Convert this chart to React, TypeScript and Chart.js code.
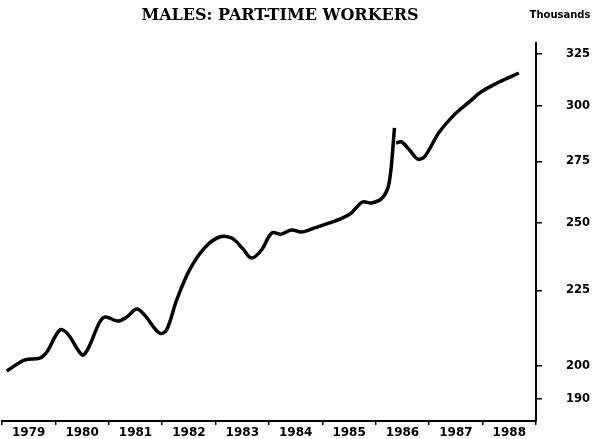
import React, { useEffect, useRef } from 'react';
import { Chart, registerables } from 'chart.js';

Chart.register(...registerables);

const TITLE = 'MALES: PART-TIME WORKERS';
const UNIT = 'Thousands';

const yearLabels = ['1979', '1980', '1981', '1982', '1983', '1984', '1985', '1986', '1987', '1988'];
const yTickValues = [190, 200, 225, 250, 275, 300, 325];

// Series before the 1986 break (time in years, value in thousands)
const beforeBreakT = [
  1979.09, 1979.43, 1979.71, 1979.84, 1980.08, 1980.22, 1980.5, 1980.61, 1980.83, 1980.94,
  1981.17, 1981.34, 1981.52, 1981.67, 1981.95, 1982.08, 1982.27, 1982.51, 1982.79, 1983.07,
  1983.3, 1983.5, 1983.67, 1983.86, 1984.05, 1984.23, 1984.42, 1984.61, 1984.85, 1985.13,
  1985.37, 1985.54, 1985.75, 1985.92, 1986.12, 1986.25, 1986.35,
];
const beforeBreakV = [
  198.5, 201.9, 202.5, 204.4, 211.5, 210.5, 203.5, 205.4, 214.2, 215.9,
  214.5, 215.9, 218.6, 216.5, 210.5, 211.5, 221.6, 232.2, 240.3, 244.5,
  244.1, 240.3, 236.6, 239.6, 246.0, 245.6, 247.2, 246.4, 248.0, 249.9,
  251.8, 253.8, 258.2, 257.8, 259.8, 266.0, 289.8,
];

// Series after the 1986 break
const afterBreakT = [1986.38, 1986.48, 1986.63, 1986.78, 1986.91, 1987.19, 1987.5, 1987.75, 1987.97, 1988.31, 1988.68];
const afterBreakV = [283.0, 283.5, 280.0, 276.1, 277.0, 287.9, 296.5, 301.7, 306.4, 311.2, 315.6];

const toPoints = (t: number[], v: number[]) => t.map((x, i) => ({ x, y: v[i] }));

const textPlugin = {
  id: 'chartTexts',
  afterDraw(chart: any) {
    const ctx = chart.ctx;
    ctx.save();
    ctx.fillStyle = '#000';
    ctx.textBaseline = 'middle';
    ctx.textAlign = 'center';
    ctx.font = 'bold 16px "DejaVu Serif"';
    ctx.fillText(TITLE, 280, 16);
    ctx.font = 'bold 10px "DejaVu Sans"';
    ctx.fillText(UNIT, 560, 15);
    ctx.restore();
  },
};

export default function App() {
  const ref = useRef<HTMLCanvasElement | null>(null);

  useEffect(() => {
    document.body.style.margin = '0';
    const canvas = ref.current;
    if (!canvas) return;
    const lineStyle = {
      borderColor: '#000',
      borderWidth: 3.5,
      pointRadius: 0,
      tension: 0.35,
      fill: false,
    };
    const chart = new Chart(canvas, {
      type: 'line',
      data: {
        datasets: [
          { ...lineStyle, label: 'before', data: toPoints(beforeBreakT, beforeBreakV) },
          { ...lineStyle, label: 'after', data: toPoints(afterBreakT, afterBreakV) },
        ],
      },
      options: {
        animation: false,
        responsive: false,
        maintainAspectRatio: false,
        layout: { padding: { top: 43, left: 2, right: 0, bottom: 0 } },
        plugins: {
          legend: { display: false },
          title: { display: false },
          tooltip: { enabled: false },
        },
        scales: {
          x: {
            type: 'linear',
            position: 'bottom',
            min: 1979,
            max: 1989,
            grid: { display: true, drawOnChartArea: false, drawTicks: true, tickLength: 4, color: '#000', lineWidth: 1.5 },
            border: { display: true, color: '#000', width: 2 },
            afterBuildTicks: (scale: any) => {
              const ticks = [];
              for (let y = 1979; y <= 1989; y++) ticks.push({ value: y });
              scale.ticks = ticks;
            },
            afterFit: (scale: any) => {
              scale.height = 18;
              scale.paddingLeft = 0;
              scale.paddingRight = 0;
            },
            ticks: {
              align: 'start',
              labelOffset: 10,
              padding: 1,
              maxRotation: 0,
              autoSkip: false,
              color: '#000',
              font: { family: 'DejaVu Sans', weight: 'bold', size: 12 },
              callback: (v: any) => {
                const i = Math.round(Number(v)) - 1979;
                return yearLabels[i] ?? '';
              },
            },
          },
          y: {
            type: 'logarithmic',
            position: 'right',
            min: 183.6,
            max: 330.7,
            grid: { display: true, drawOnChartArea: false, drawTicks: true, tickLength: 6, color: '#000', lineWidth: 1.5 },
            border: { display: true, color: '#000', width: 2 },
            afterBuildTicks: (scale: any) => {
              scale.ticks = yTickValues.map((v) => ({ value: v }));
            },
            afterFit: (scale: any) => {
              scale.width = 67;
              scale.paddingTop = 0;
              scale.paddingBottom = 0;
            },
            ticks: {
              padding: 24,
              color: '#000',
              font: { family: 'DejaVu Sans', weight: 'bold', size: 11.5 },
              callback: (v: any) => String(v),
            },
          },
        },
      },
      plugins: [textPlugin],
    });
    return () => chart.destroy();
  }, []);

  return (
    <div style={{ position: 'absolute', left: 0, top: 0, width: 603, height: 439, background: '#fff' }}>
      <canvas ref={ref} width={603} height={439} style={{ width: 603, height: 439 }} />
    </div>
  );
}
